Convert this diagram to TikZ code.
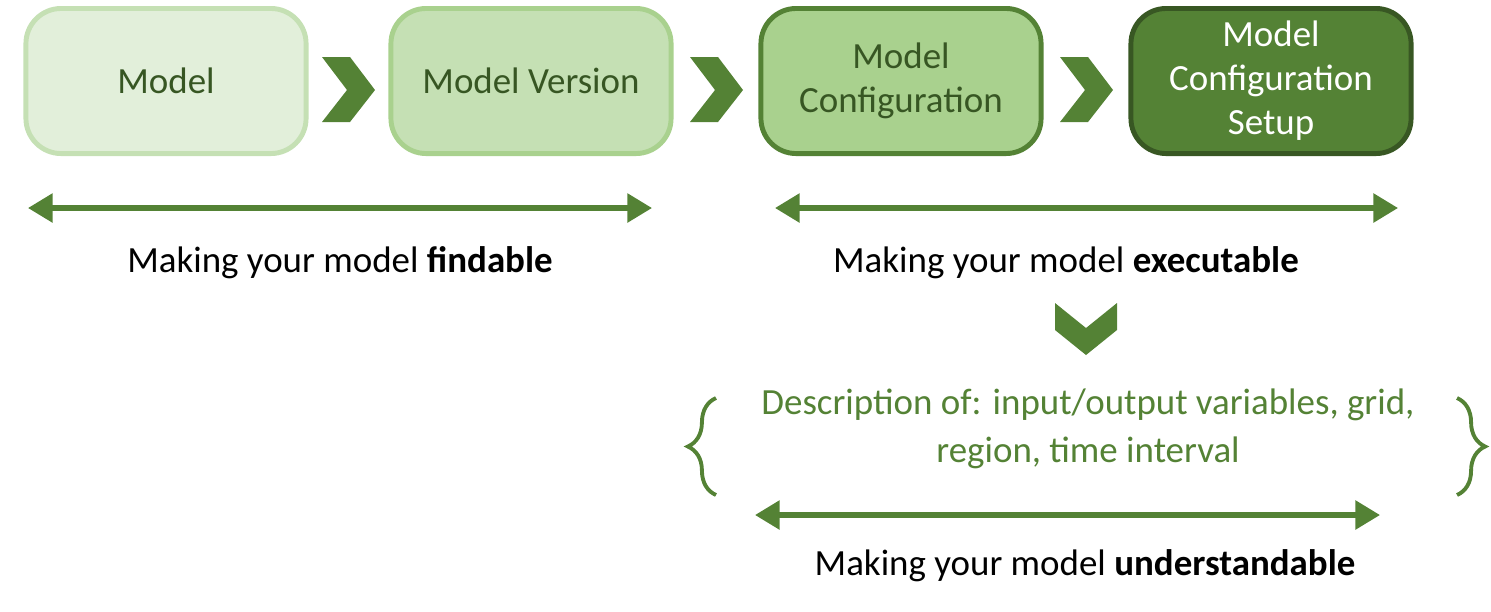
\documentclass[tikz,border=0pt]{standalone}
\usepackage{fontspec}
\setmainfont{Carlito}
\usetikzlibrary{arrows.meta,decorations.pathreplacing,positioning}
\definecolor{gA}{HTML}{E2EFDA}
\definecolor{gB}{HTML}{C5E0B4}
\definecolor{gC}{HTML}{A9D18E}
\definecolor{gD}{HTML}{548235}
\definecolor{gE}{HTML}{385723}
\definecolor{gT}{HTML}{375623}
\tikzset{
  stage/.style={draw, rounded corners=10pt, line width=1.4pt, minimum width=2.8cm,
    minimum height=1.45cm, align=center, text=gT, font=\fontsize{10.5}{12.5}\selectfont},
  chev/.style={fill=gD, draw=none},
  span/.style={{Triangle[length=7pt,width=8pt]}-{Triangle[length=7pt,width=8pt]}, draw=gD, line width=1.5pt},
  caption/.style={font=\fontsize{10.5}{12.5}\selectfont},
  curly/.style={draw=gD, line width=1.1pt, decorate, decoration={brace, amplitude=8pt}}
}
\begin{document}
\begin{tikzpicture}[x=0.01cm,y=-0.01cm]
   \useasboundingbox (0,0) rectangle (1491,611);
   % stages
   \node[stage, fill=gA, draw=gB] (model) at (166,81) {Model};
   \node[stage, fill=gB, draw=gC] (version) at (531,81) {Model Version};
   \node[stage, fill=gC, draw=gD] (config) at (901,81) {Model\\Configuration};
   \node[stage, fill=gD, draw=gE, text=white] (setup) at (1271,81) {Model\\Configuration\\Setup};

   % chevrons
   \foreach \x in {322,690,1060}
     \fill[chev] (\x,57) -- ++(28,0) -- ++(25,33) -- ++(-25,32) -- ++(-28,0) -- ++(25,-32) -- cycle;
   \fill[chev] (1055,303) -- (1086,328) -- (1117,303) -- (1117,330) -- (1086,355) -- (1055,330) -- cycle;

   % spans
   \coordinate (f1) at (28,208);   \coordinate (f2) at (652,208);
   \coordinate (e1) at (775,208);  \coordinate (e2) at (1398,208);
   \coordinate (u1) at (755,515);  \coordinate (u2) at (1380,515);
   \draw[span] (f1) -- (f2);
   \draw[span] (e1) -- (e2);
   \draw[span] (u1) -- (u2);

   \node[caption] (findable) at (340,263) {Making your model \textbf{findable}};
   \node[caption] (executable) at (1066,263) {Making your model \textbf{executable}};
   \node[caption] (understandable) at (1085,566) {Making your model \textbf{understandable}};

   % description
   \node[caption, text=gD, align=center] (desc) at (1088,429) {Description of: input/output variables, grid,\\[1pt]region, time interval};
   \draw[curly] (716,495) -- (716,398);
   \draw[curly] (1457,398) -- (1457,495);
\end{tikzpicture}
\end{document}
